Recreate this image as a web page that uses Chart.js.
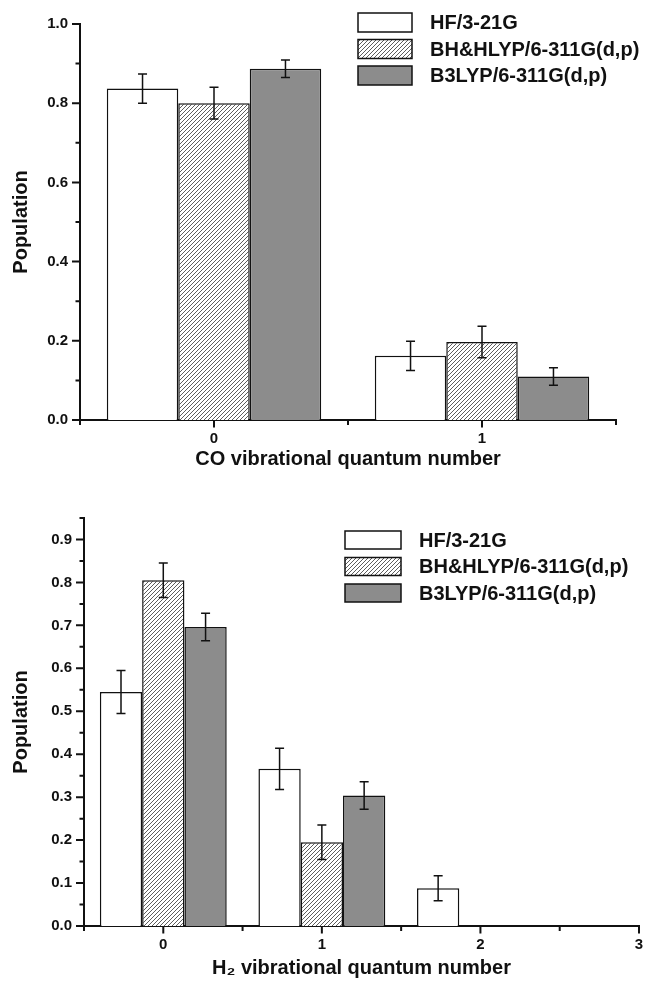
<!DOCTYPE html>
<html>
<head>
<meta charset="utf-8">
<script src="https://cdn.jsdelivr.net/npm/chart.js@4.4.1/dist/chart.umd.min.js"></script>
<style>
  body { margin: 0; background: #fff; }
  canvas { display: block; }
</style>
</head>
<body>
<canvas id="coChart" width="650" height="490"></canvas>
<canvas id="h2Chart" width="650" height="491"></canvas>
<script>
const seriesLabels = ['HF/3-21G', 'BH&HLYP/6-311G(d,p)', 'B3LYP/6-311G(d,p)'];

// CO panel
const coLevels = [0, 1];
const coHF = [0.837, 0.162];
const coBH = [0.800, 0.197];
const coB3 = [0.887, 0.110];
const coHFErr = [0.037, 0.037];
const coBHErr = [0.040, 0.040];
const coB3Err = [0.022, 0.022];
const coYTicks = [0, 0.2, 0.4, 0.6, 0.8, 1.0];
const coYMinor = [0.1, 0.3, 0.5, 0.7, 0.9];
const coXTicks = [0, 1];
const coXMinor = [-0.5, 0.5, 1.5];

// H2 panel
const h2LevelsHF = [0, 1, 2];
const h2LevelsDFT = [0, 1];
const h2HF = [0.545, 0.366, 0.088];
const h2BH = [0.805, 0.195];
const h2B3 = [0.696, 0.304];
const h2HFErr = [0.050, 0.048, 0.029];
const h2BHErr = [0.040, 0.040];
const h2B3Err = [0.032, 0.032];
const h2YTicks = [0, 0.1, 0.2, 0.3, 0.4, 0.5, 0.6, 0.7, 0.8, 0.9];
const h2YMinor = [0.05, 0.15, 0.25, 0.35, 0.45, 0.55, 0.65, 0.75, 0.85, 0.95];
const h2XTicks = [0, 1, 2, 3];
const h2XMinor = [-0.5, 0.5, 1.5, 2.5];

const FONT = '"Liberation Sans", Arial, sans-serif';
const INK = '#111';
const GREY = '#8c8c8c';

function makeHatch() {
  const c = document.createElement('canvas');
  c.width = 4; c.height = 4;
  const g = c.getContext('2d');
  g.fillStyle = '#fff';
  g.fillRect(0, 0, 4, 4);
  g.strokeStyle = '#333';
  g.lineWidth = 0.8;
  g.beginPath();
  g.moveTo(0, 4); g.lineTo(4, 0);
  g.moveTo(-1, 1); g.lineTo(1, -1);
  g.moveTo(3, 5); g.lineTo(5, 3);
  g.stroke();
  return g.createPattern(c, 'repeat');
}
const hatch = makeHatch();

const pairs = (xs, ys) => ys.map((v, i) => ({ x: xs[i], y: v }));

const errorBarsPlugin = {
  id: 'errorBars',
  afterDatasetsDraw(chart) {
    const { ctx, scales: { y } } = chart;
    ctx.save();
    ctx.strokeStyle = INK;
    ctx.lineWidth = 1.5;
    chart.data.datasets.forEach((ds, i) => {
      chart.getDatasetMeta(i).data.forEach((bar, j) => {
        const v = ds.data[j].y, e = ds.errors[j];
        const top = y.getPixelForValue(v + e);
        const bot = y.getPixelForValue(v - e);
        ctx.beginPath();
        ctx.moveTo(bar.x, top); ctx.lineTo(bar.x, bot);
        ctx.moveTo(bar.x - 4.5, top); ctx.lineTo(bar.x + 4.5, top);
        ctx.moveTo(bar.x - 4.5, bot); ctx.lineTo(bar.x + 4.5, bot);
        ctx.stroke();
      });
    });
    ctx.restore();
  }
};

// tick marks, long at labelled values and short in between
function tickMarks(xMajor, yMajor, xMinor, yMinor) {
  return {
    id: 'tickMarks',
    afterDraw(chart) {
      const { ctx, chartArea } = chart;
      const x = chart.scales.x, y = chart.scales.y;
      const xMark = (v, len) => {
        const px = x.getPixelForValue(v);
        ctx.moveTo(px, chartArea.bottom);
        ctx.lineTo(px, chartArea.bottom + len);
      };
      const yMark = (v, len) => {
        const py = y.getPixelForValue(v);
        ctx.moveTo(chartArea.left, py);
        ctx.lineTo(chartArea.left - len, py);
      };
      ctx.save();
      ctx.strokeStyle = INK;
      ctx.lineWidth = 2;
      ctx.beginPath();
      xMajor.forEach(v => xMark(v, 7.5));
      yMajor.forEach(v => yMark(v, 8));
      xMinor.forEach(v => xMark(v, 5));
      yMinor.forEach(v => yMark(v, 4.5));
      ctx.stroke();
      ctx.restore();
    }
  };
}

const boxLegendPlugin = {
  id: 'boxLegend',
  afterDraw(chart, args, opts) {
    const { ctx } = chart;
    ctx.save();
    ctx.font = 'bold 20px ' + FONT;
    ctx.textBaseline = 'middle';
    chart.data.datasets.forEach((ds, i) => {
      const top = opts.top + i * opts.pitch;
      ctx.fillStyle = ds.backgroundColor;
      ctx.fillRect(opts.left, top, opts.boxW, opts.boxH);
      ctx.strokeStyle = INK;
      ctx.lineWidth = 1.5;
      ctx.strokeRect(opts.left, top, opts.boxW, opts.boxH);
      ctx.fillStyle = INK;
      ctx.fillText(ds.label, opts.left + opts.boxW + 18, top + opts.boxH / 2 + 1);
    });
    ctx.restore();
  }
};

function barSet(label, data, errors, fill) {
  return {
    label, data, errors,
    backgroundColor: fill,
    borderColor: INK,
    borderWidth: 1.5,
    categoryPercentage: 0.8,
    barPercentage: 1.0
  };
}

function makeChart(id, cfg) {
  return new Chart(document.getElementById(id), {
    type: 'bar',
    data: { datasets: cfg.datasets },
    options: {
      responsive: false,
      animation: false,
      devicePixelRatio: 1,
      events: [],
      layout: { padding: { top: cfg.padTop, right: cfg.padRight, left: 0, bottom: 0 } },
      plugins: {
        legend: { display: false },
        tooltip: { enabled: false },
        boxLegend: cfg.legend
      },
      scales: {
        x: {
          type: 'linear',
          min: cfg.xMin, max: cfg.xMax,
          offset: false,
          afterBuildTicks: s => { s.ticks = cfg.xTicks.map(v => ({ value: v })); },
          afterFit: s => { s.height = cfg.xHeight; },
          border: { color: INK, width: 2 },
          grid: { display: false, offset: false, drawTicks: true, tickLength: 7 },
          ticks: {
            color: INK, font: { family: FONT, size: 15, weight: 'bold' },
            padding: 3, maxRotation: 0, autoSkip: false,
            callback: v => String(v)
          },
          title: {
            display: true, text: cfg.xTitle, color: INK,
            font: { family: FONT, size: 20, weight: 'bold' },
            padding: { top: 0, bottom: cfg.xTitlePad }
          }
        },
        y: {
          min: 0, max: cfg.yMax,
          afterBuildTicks: s => { s.ticks = cfg.yTicks.map(v => ({ value: v })); },
          afterFit: s => { s.width = cfg.yWidth; },
          border: { color: INK, width: 2 },
          grid: { display: false, drawTicks: true, tickLength: 8 },
          ticks: {
            color: INK, font: { family: FONT, size: 15, weight: 'bold' },
            padding: 4, autoSkip: false, callback: v => v.toFixed(1)
          },
          title: {
            display: true, text: 'Population', color: INK,
            font: { family: FONT, size: 20, weight: 'bold' },
            padding: { top: 9, bottom: 0 }
          }
        }
      }
    },
    plugins: [errorBarsPlugin, tickMarks(cfg.xTicks, cfg.yTicks, cfg.xMinor, cfg.yMinor), boxLegendPlugin]
  });
}

makeChart('coChart', {
  datasets: [
    barSet(seriesLabels[0], pairs(coLevels, coHF), coHFErr, '#ffffff'),
    barSet(seriesLabels[1], pairs(coLevels, coBH), coBHErr, hatch),
    barSet(seriesLabels[2], pairs(coLevels, coB3), coB3Err, GREY)
  ],
  xMin: -0.5, xMax: 1.5, xTicks: coXTicks, xMinor: coXMinor,
  yMax: 1.0, yTicks: coYTicks, yMinor: coYMinor,
  xTitle: 'CO vibrational quantum number',
  padTop: 24, padRight: 34, xHeight: 70, yWidth: 80, xTitlePad: 19,
  legend: { left: 358, top: 13, pitch: 26.5, boxW: 54, boxH: 19 }
});

makeChart('h2Chart', {
  datasets: [
    barSet(seriesLabels[0], pairs(h2LevelsHF, h2HF), h2HFErr, '#ffffff'),
    barSet(seriesLabels[1], pairs(h2LevelsDFT, h2BH), h2BHErr, hatch),
    barSet(seriesLabels[2], pairs(h2LevelsDFT, h2B3), h2B3Err, GREY)
  ],
  xMin: -0.5, xMax: 3, xTicks: h2XTicks, xMinor: h2XMinor,
  yMax: 0.95, yTicks: h2YTicks, yMinor: h2YMinor,
  xTitle: 'H\u2082 vibrational quantum number',
  padTop: 28, padRight: 11, xHeight: 55, yWidth: 84, xTitlePad: 1,
  legend: { left: 345, top: 41, pitch: 26.5, boxW: 56, boxH: 18 }
});
</script>
</body>
</html>
